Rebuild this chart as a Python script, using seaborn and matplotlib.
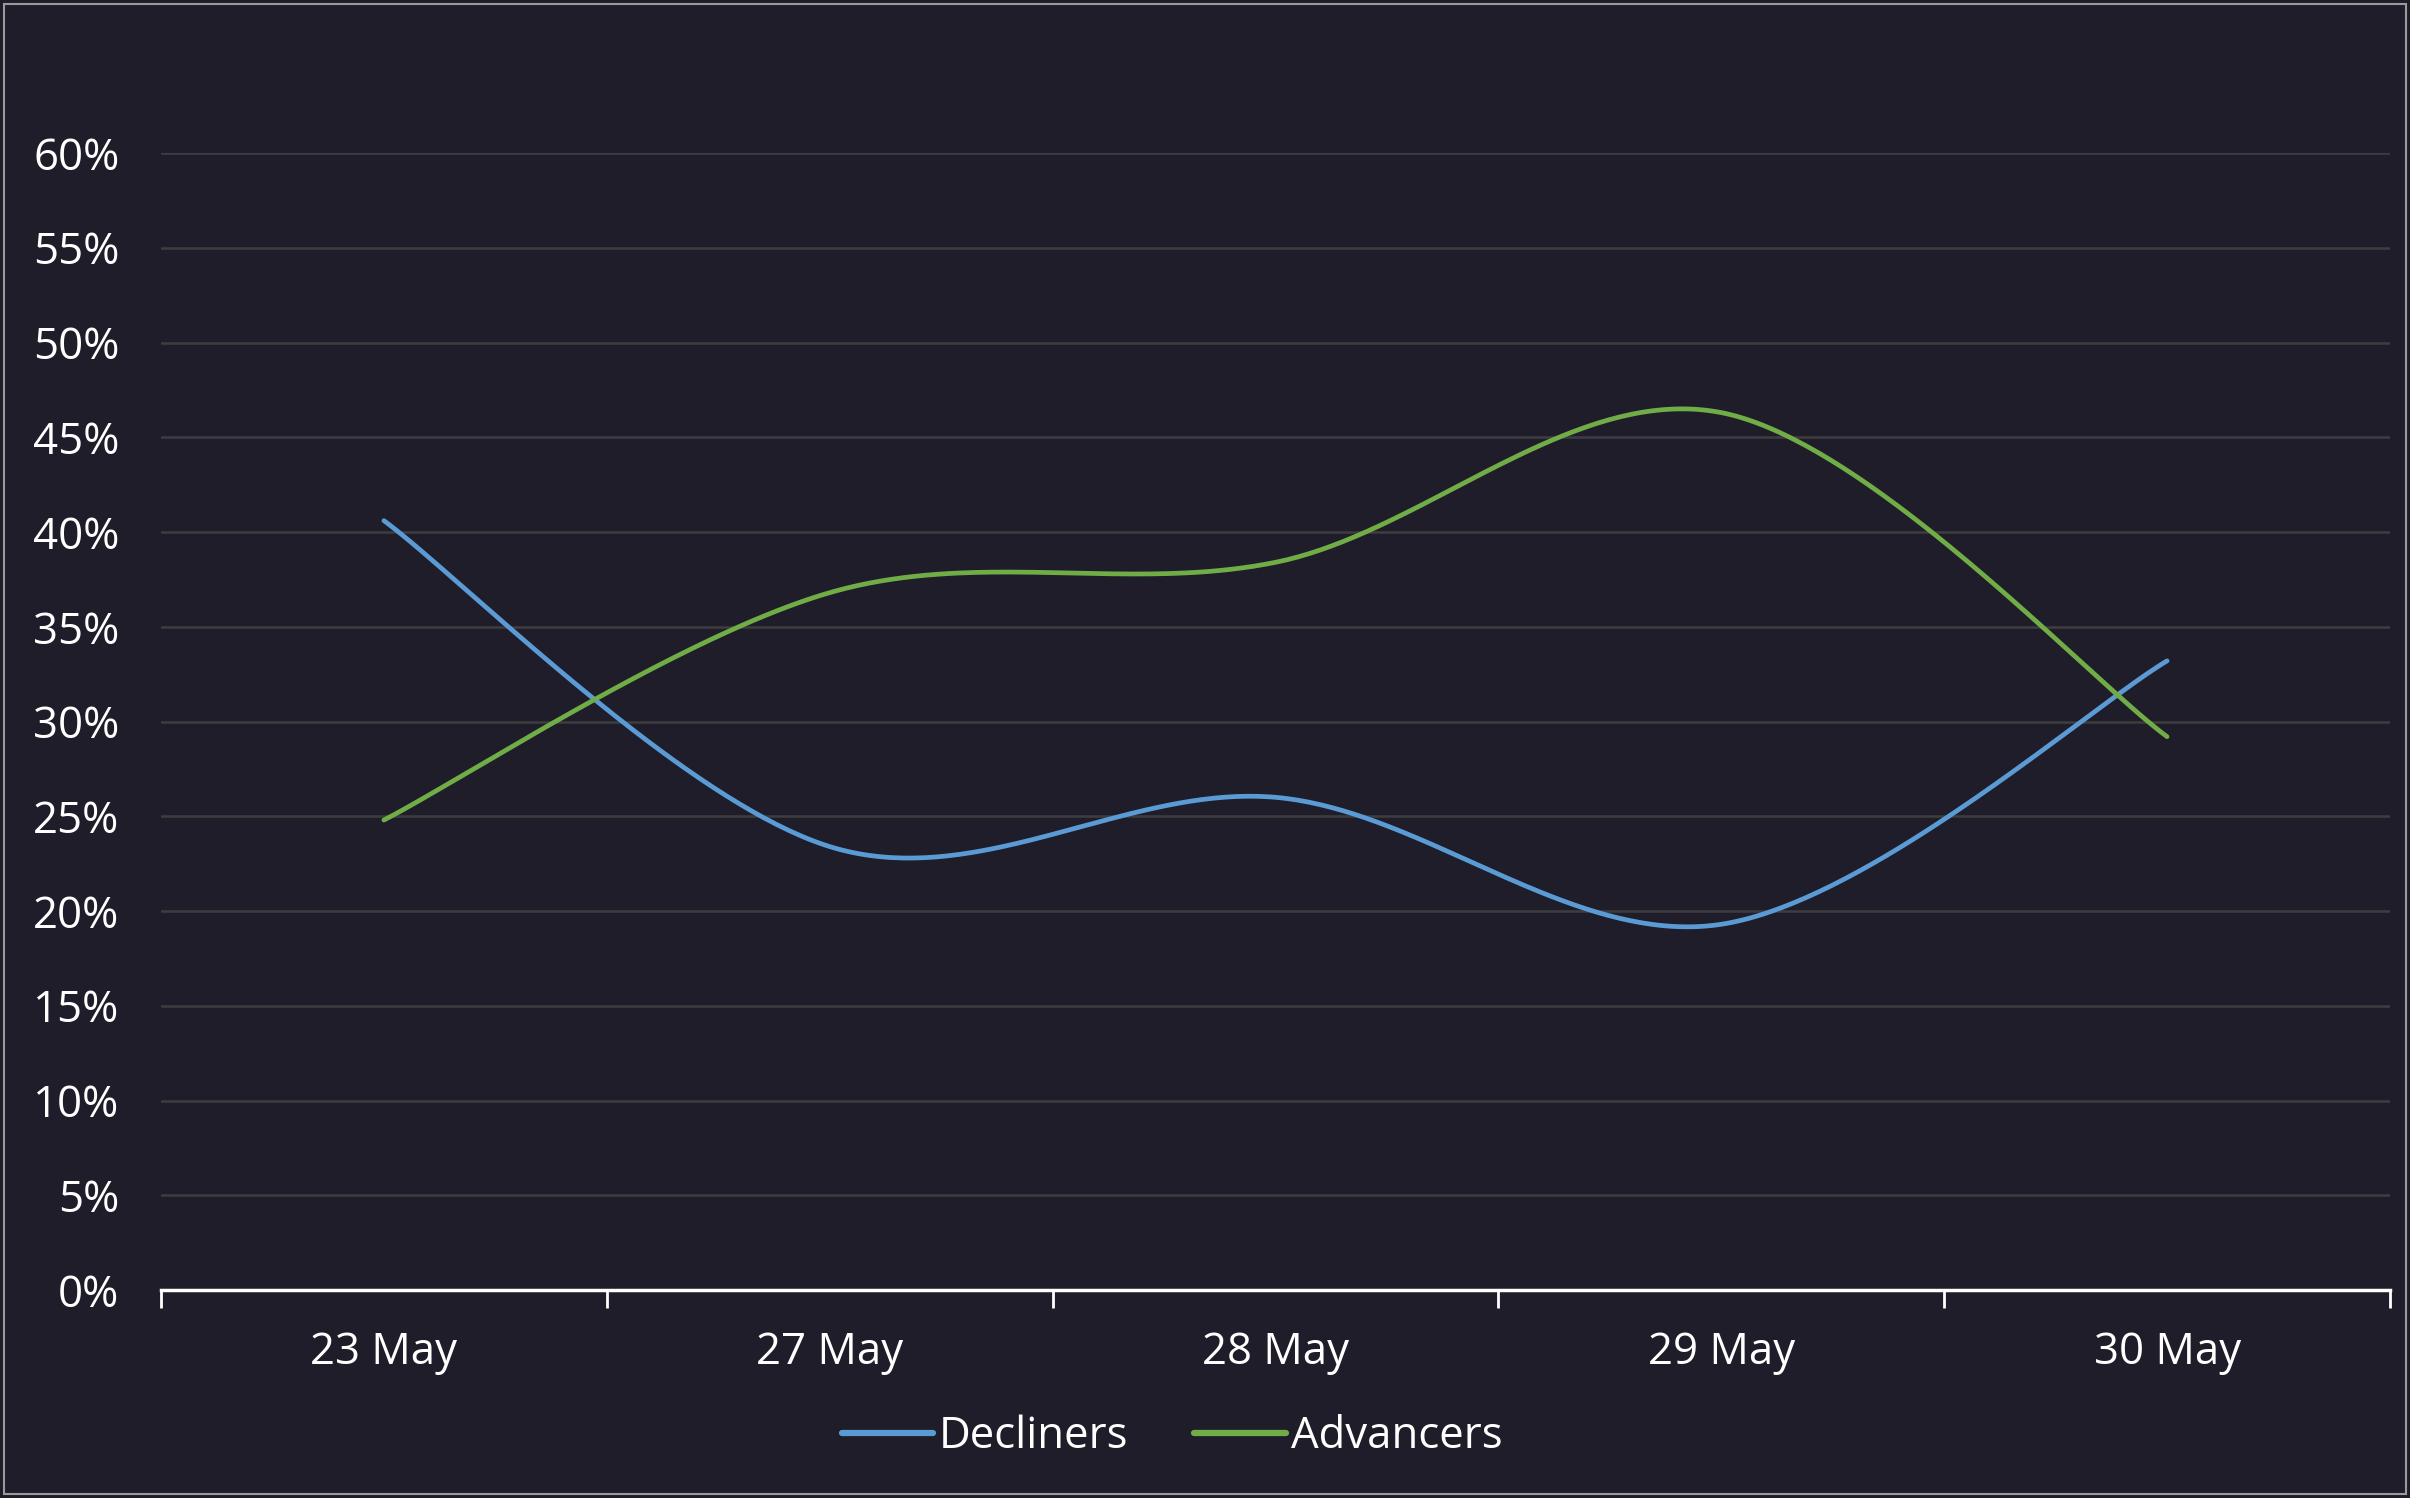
import numpy as np
import pandas as pd
import matplotlib
matplotlib.use("Agg")
import matplotlib.pyplot as plt
from matplotlib.patches import Rectangle
import seaborn as sns

# ---- data ----
dates = ["23 May", "27 May", "28 May", "29 May", "30 May"]
decliners = [40.6, 23.4, 26.0, 19.3, 33.2]
advancers = [24.8, 36.8, 38.4, 46.3, 29.2]
series_names = ["Decliners", "Advancers"]
colors = {"Decliners": "#5b9bd5", "Advancers": "#70ad47"}
yticks = [0, 5, 10, 15, 20, 25, 30, 35, 40, 45, 50, 55, 60]

BG = "#1e1d29"
GRID = "#3d3d40"
FS = 31.5

sns.set_theme(style="dark")
plt.rcParams["font.family"] = ["Open Sans", "DejaVu Sans"]


def smooth(vals, n=80):
    """Bezier (Excel-like) smoothing through the data points."""
    x = np.arange(len(vals), dtype=float)
    y = np.asarray(vals, dtype=float)
    xs, ys = [], []
    m = len(y)
    for i in range(m - 1):
        i0, i3 = max(i - 1, 0), min(i + 2, m - 1)
        t = np.linspace(0, 1, n)
        for arr, out in ((x, xs), (y, ys)):
            p0, p1, p2, p3 = arr[i0], arr[i], arr[i + 1], arr[i3]
            c1 = p1 + (p2 - p0) / 6.0
            c2 = p2 - (p3 - p1) / 6.0
            b = ((1 - t) ** 3) * p1 + 3 * ((1 - t) ** 2) * t * c1 + 3 * (1 - t) * t ** 2 * c2 + t ** 3 * p2
            out.extend(b if i == 0 else b[1:])
    return np.array(xs), np.array(ys)


frames = []
for name, vals in zip(series_names, [decliners, advancers]):
    sx, sy = smooth(vals)
    frames.append(pd.DataFrame({"x": sx, "y": sy, "series": name}))
df = pd.concat(frames, ignore_index=True)

fig = plt.figure(figsize=(24.10, 14.98), dpi=100, facecolor=BG)
ax = fig.add_axes([161 / 2410, 1 - 1290 / 1498, (2390 - 161) / 2410, (1290 - 153) / 1498])
ax.set_facecolor(BG)

sns.lineplot(data=df, x="x", y="y", hue="series", palette=colors, sort=False,
             estimator=None, units="series", linewidth=3.4, ax=ax,
             legend=True, hue_order=series_names)
for ln in ax.get_lines():
    ln.set_solid_capstyle("round")

ax.set_xlim(-0.5, len(dates) - 0.5)
ax.set_ylim(0, 60)
ax.set_xlabel("")
ax.set_ylabel("")

ax.set_yticks(yticks)
ax.set_yticklabels([f"{v}%" for v in yticks])
ax.yaxis.grid(True, color=GRID, linewidth=1.8)
ax.xaxis.grid(False)
ax.tick_params(axis="y", length=0, pad=30, labelsize=FS, labelcolor="white")

ax.set_xticks(range(len(dates)))
ax.set_xticklabels(dates)
ax.set_xticks(np.arange(-0.5, len(dates), 1.0), minor=True)
ax.tick_params(axis="x", which="major", bottom=False, length=0, pad=29, labelsize=FS, labelcolor="white")
ax.tick_params(axis="x", which="minor", bottom=True, length=13, width=2.0, color="white", direction="out")

for s in ["top", "right", "left"]:
    ax.spines[s].set_visible(False)
ax.spines["bottom"].set_color("white")
ax.spines["bottom"].set_linewidth(2.5)
ax.set_axisbelow(True)

leg = ax.legend(loc="center", bbox_to_anchor=(1172 / 2410, 1 - 1437 / 1498),
                bbox_transform=fig.transFigure, ncol=2, frameon=False,
                fontsize=FS, handlelength=2.1, handletextpad=0.12, columnspacing=1.5)
for txt in leg.get_texts():
    txt.set_color("white")
for h in leg.get_lines():
    h.set_linewidth(4.5)
    h.set_solid_capstyle("round")

fig.add_artist(Rectangle((0.0015, 0.003), 0.997, 0.994, transform=fig.transFigure,
                         fill=False, edgecolor="#9a9a9a", linewidth=1.5))

fig.savefig("out.png", dpi=100, facecolor=BG)
